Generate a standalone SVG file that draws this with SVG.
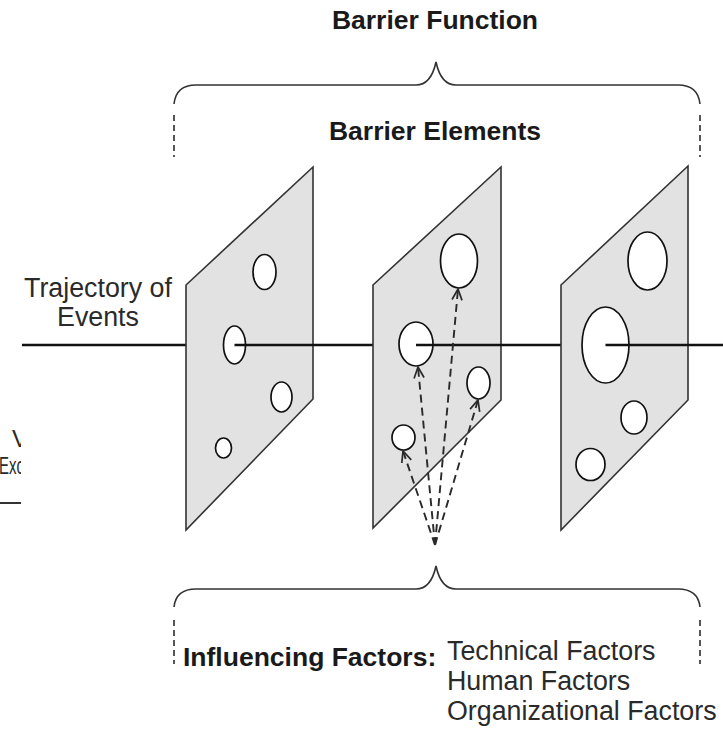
<svg xmlns="http://www.w3.org/2000/svg" width="723" height="729" viewBox="0 0 723 729">
  <style>
    .title { font-family: "Liberation Sans", Arial, sans-serif; font-size: 26.5px; font-weight: bold; fill: #1a1a1a; }
    .label { font-family: "Liberation Sans", Arial, sans-serif; font-size: 26.8px; fill: #2a2a2a; }
    .panel { fill: #e2e2e2; stroke: #333333; stroke-width: 1.6; stroke-linejoin: miter; }
    .hole { fill: #ffffff; stroke: #111111; stroke-width: 1.7; }
    .traj { stroke: #111111; stroke-width: 2.4; fill: none; }
    .brace { fill: none; stroke: #333333; stroke-width: 1.6; }
    .guide { fill: none; stroke: #444444; stroke-width: 1.8; stroke-dasharray: 6 4; }
    .influence { fill: none; stroke: #2a2a2a; stroke-width: 1.9; stroke-dasharray: 8 5; marker-end: url(#openHead); }
  </style>
  <defs>
    <marker id="openHead" viewBox="0 0 14 14" refX="13" refY="7" markerWidth="14" markerHeight="14" markerUnits="userSpaceOnUse" orient="auto">
      <path d="M2,2 L13,7 L2,12" fill="none" stroke="#2a2a2a" stroke-width="1.7" stroke-dasharray="none"/>
    </marker>
    <clipPath id="edgeClip">
      <rect x="0" y="400" width="21" height="120"/>
    </clipPath>
  </defs>

  <!-- partial content at the left edge -->
  <g id="edge-fragment" clip-path="url(#edgeClip)">
    <text class="label" x="12" y="447" style="font-size:24px">V</text>
    <text class="label" x="-1" y="474" style="font-size:24px" textLength="25" lengthAdjust="spacingAndGlyphs">Exc</text>
    <line x1="0" y1="503" x2="21" y2="503" stroke="#333333" stroke-width="2"/>
  </g>

  <!-- headings and braces -->
  <g id="barrier-function">
    <text class="title" x="435" y="29" text-anchor="middle">Barrier Function</text>
    <path class="brace" d="M174,104 Q176,85 196,85 H416 Q431,85 436,62 Q441,85 456,85 H678 Q698,85 700,104"/>
    <line class="guide" x1="174" y1="115" x2="174" y2="157"/>
    <line class="guide" x1="700" y1="115" x2="700" y2="157"/>
  </g>
  <g id="barrier-elements">
    <text class="title" x="435" y="140" text-anchor="middle">Barrier Elements</text>
  </g>

  <!-- trajectory label and incoming line -->
  <g id="trajectory">
    <text class="label" x="98" y="297" text-anchor="middle">Trajectory of</text>
    <text class="label" x="98" y="326" text-anchor="middle">Events</text>
    <line class="traj" x1="22" y1="345" x2="186" y2="345"/>
  </g>

  <!-- barrier element 1 -->
  <g id="barrier-1">
    <polygon class="panel" points="186,285 313,167 313,399 186,530"/>
    <ellipse class="hole" cx="264.5" cy="272" rx="11.5" ry="17.5"/>
    <ellipse class="hole" cx="234.5" cy="345" rx="11" ry="19"/>
    <ellipse class="hole" cx="281.5" cy="397" rx="10.5" ry="15"/>
    <ellipse class="hole" cx="223.5" cy="448" rx="8" ry="10"/>
  </g>
  <g id="connectors">
    <line class="traj" x1="234.5" y1="345" x2="374" y2="345"/>
  </g>

  <!-- barrier element 2 -->
  <g id="barrier-2">
    <polygon class="panel" points="373,285 501,167 501,400 373,528"/>
    <ellipse class="hole" cx="459" cy="261" rx="18.5" ry="27"/>
    <ellipse class="hole" cx="416" cy="344" rx="17" ry="22"/>
    <ellipse class="hole" cx="478.5" cy="383" rx="11.5" ry="16"/>
    <ellipse class="hole" cx="403.5" cy="437.5" rx="11.5" ry="12.5"/>
  </g>
  <g id="connectors-2">
    <line class="traj" x1="416" y1="345" x2="562" y2="345"/>
    <line class="influence" x1="435" y1="545" x2="403" y2="451"/>
    <line class="influence" x1="435" y1="545" x2="418" y2="367"/>
    <line class="influence" x1="435" y1="545" x2="458" y2="289"/>
    <line class="influence" x1="435" y1="545" x2="478" y2="400"/>
  </g>

  <!-- barrier element 3 -->
  <g id="barrier-3">
    <polygon class="panel" points="561,285 688,166 688,400 561,530"/>
    <ellipse class="hole" cx="647.5" cy="261" rx="19.5" ry="29"/>
    <ellipse class="hole" cx="605.5" cy="345" rx="23.5" ry="38"/>
    <ellipse class="hole" cx="634" cy="417.5" rx="13" ry="16.5"/>
    <ellipse class="hole" cx="590.5" cy="464.5" rx="14.5" ry="16"/>
  </g>
  <g id="connectors-3">
    <line class="traj" x1="605.5" y1="345" x2="723" y2="345"/>
  </g>

  <!-- influencing factors -->
  <g id="influencing-factors">
    <path class="brace" d="M174,607 Q176,589 196,589 H416 Q431,589 436,566 Q441,589 456,589 H678 Q698,589 700,607"/>
    <line class="guide" x1="174" y1="620" x2="174" y2="664"/>
    <line class="guide" x1="700" y1="620" x2="700" y2="664"/>
    <text class="title" x="183" y="666">Influencing Factors:</text>
    <text class="label" x="447" y="660">Technical Factors</text>
    <text class="label" x="447" y="690">Human Factors</text>
    <text class="label" x="447" y="720">Organizational Factors</text>
  </g>
</svg>
